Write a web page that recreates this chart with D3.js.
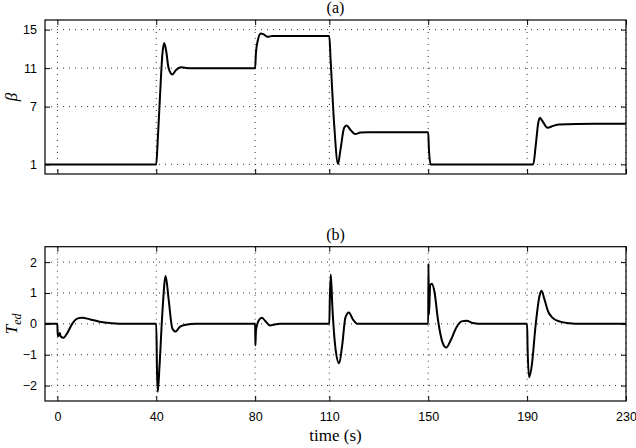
<!DOCTYPE html>
<html>
<head>
<meta charset="utf-8">
<script src="https://d3js.org/d3.v7.min.js"></script>
<style>
body{margin:0;background:#fff;}
svg{display:block;}
</style>
</head>
<body>
<div id="chart-area"></div>
<script>
// time ticks shared by both panels
var xTicks=[0,40,80,110,150,190,230];
var betaTicks=[1,7,11,15];
var tedTicks=[-2,-1,0,1,2];

// (a) beta
var betaT=[-5,40,40.5,41.5,42.5,43.2,44,45,46.5,48,50,52,55,80,80.3,81,82.3,83.5,85,87,110,110.5,112,113.5,114.5,116,117,118.5,120.5,122.5,126,150,150.3,151,192.5,193.5,194.5,195.2,196.2,198.3,200.5,203,210,230];
var betaV=[1,1,3,8,12.5,13.6,12.8,11.0,10.35,10.8,11.1,11.02,11,11,12.5,13.8,14.6,14.5,14.25,14.35,14.35,12,5,1.05,2.5,4.8,5.05,4.6,4.15,4.3,4.35,4.35,2.5,1,1,3,5.3,5.85,5.5,4.8,5.0,5.15,5.2,5.22];

// (b) T_ed
var tedT=[-5,0,0.15,0.5,1.0,1.3,2.5,4,6,8,10,13,17,22,28,40,40.3,40.6,41.3,42.5,43.8,45,46.5,47.8,49.5,52,56,80,80.1,80.35,81.5,82.7,84,86,88,90,110,110.2,110.6,111.2,112.5,114,115.2,116.5,117.9,119.5,121.5,150,150.1,150.3,150.8,151.5,152.5,154,156,157.3,159,161.5,163.5,165.5,168,172,190,190.2,190.8,191.8,193.5,195,195.8,197,198.5,200,203,207,212,230];
var tedV=[0,0,-0.4,-0.38,-0.3,-0.4,-0.45,-0.3,0,0.17,0.2,0.15,0.07,0.02,0,0,-1.5,-2.2,-1.4,0.4,1.55,0.8,-0.15,-0.25,-0.1,-0.03,0,0,-0.7,-0.2,0.12,0.2,0.1,-0.05,-0.02,0,0,0.8,1.6,0.6,-0.8,-1.28,-0.7,0.2,0.37,0.15,0,0,1.95,0.3,1.25,1.3,1.05,0.1,-0.65,-0.77,-0.55,-0.1,0.08,0.1,0.03,0,0,-0.8,-1.73,-1.4,0,0.9,1.07,0.8,0.4,0.22,0.08,0.02,0,0];

var W=636,H=448;
var left=45,right=626;
var sans="'Liberation Sans', Arial, sans-serif";
var serif="'Liberation Serif', 'DejaVu Serif', serif";

var svg=d3.select("#chart-area").append("svg")
    .attr("width",W)
    .attr("height",H);

var x=d3.scaleLinear()
    .domain([-5,230])
    .range([left,right]);

function panel(top,bottom,yDomain,yTicks,tt,vv,showX,title,ylab){
    var y=d3.scaleLinear().domain(yDomain).range([bottom,top]);
    var g=svg.append("g");

    // dotted grid
    g.selectAll(".vg").data(xTicks).enter().append("line")
        .attr("x1",d=>x(d)).attr("x2",d=>x(d))
        .attr("y1",top).attr("y2",bottom)
        .attr("stroke","#333").attr("stroke-width",1)
        .attr("stroke-dasharray","1,5");
    g.selectAll(".hg").data(yTicks).enter().append("line")
        .attr("x1",left).attr("x2",right)
        .attr("y1",d=>y(d)).attr("y2",d=>y(d))
        .attr("stroke","#333").attr("stroke-width",1)
        .attr("stroke-dasharray","1,5");

    // inward ticks on all four sides
    var yl=d3.axisLeft(y).tickValues(yTicks).tickSize(-5).tickPadding(8)
        .tickFormat(d=>d<0?"\u2212"+Math.abs(d):d);
    var yr=d3.axisRight(y).tickValues(yTicks).tickSize(-5).tickFormat("");
    var xb=d3.axisBottom(x).tickValues(xTicks).tickSize(-5).tickPadding(11);
    var xt=d3.axisTop(x).tickValues(xTicks).tickSize(-5).tickFormat("");
    if(!showX) xb.tickFormat("");

    [[yl,"translate("+left+",0)"],[yr,"translate("+right+",0)"],
     [xb,"translate(0,"+bottom+")"],[xt,"translate(0,"+top+")"]].forEach(a=>{
        var ax=g.append("g").attr("transform",a[1]).call(a[0]);
        ax.select(".domain").remove();
        ax.selectAll("line").attr("stroke","#000");
        ax.selectAll("text")
            .style("font-family",sans)
            .style("font-size","12.5px")
            .attr("fill","#000");
    });

    g.append("rect")
        .attr("x",left).attr("y",top)
        .attr("width",right-left).attr("height",bottom-top)
        .attr("fill","none").attr("stroke","#000").attr("stroke-width",1.2);

    var pts=tt.map((t,i)=>[t,vv[i]]);
    var line=d3.line()
        .x(d=>x(d[0]))
        .y(d=>y(d[1]))
        .curve(d3.curveMonotoneX);
    g.append("path")
        .datum(pts)
        .attr("d",line)
        .attr("fill","none")
        .attr("stroke","#000")
        .attr("stroke-width",2)
        .attr("stroke-linejoin","round");

    g.append("text")
        .attr("x",(left+right)/2)
        .attr("y",top-7)
        .attr("text-anchor","middle")
        .style("font-family",serif)
        .style("font-size","16px")
        .text(title);

    var yc=(top+bottom)/2;
    var lab=g.append("text")
        .attr("transform","translate(17,"+yc+") rotate(-90)")
        .attr("text-anchor","middle")
        .style("font-family",serif)
        .style("font-style","italic")
        .style("font-size","17px");
    if(ylab==="beta"){
        lab.text("\u03b2");
    } else {
        lab.append("tspan").text("T");
        lab.append("tspan").style("font-size","12px").attr("dy","4").text("ed");
    }
}

panel(20,174,[0,16],betaTicks,betaT,betaV,false,"(a)","beta");
panel(246.7,401,[-2.5,2.5],tedTicks,tedT,tedV,true,"(b)","ted");

svg.append("text")
    .attr("x",(left+right)/2)
    .attr("y",441)
    .attr("text-anchor","middle")
    .style("font-family",serif)
    .style("font-size","17px")
    .text("time (s)");
</script>
</body>
</html>
